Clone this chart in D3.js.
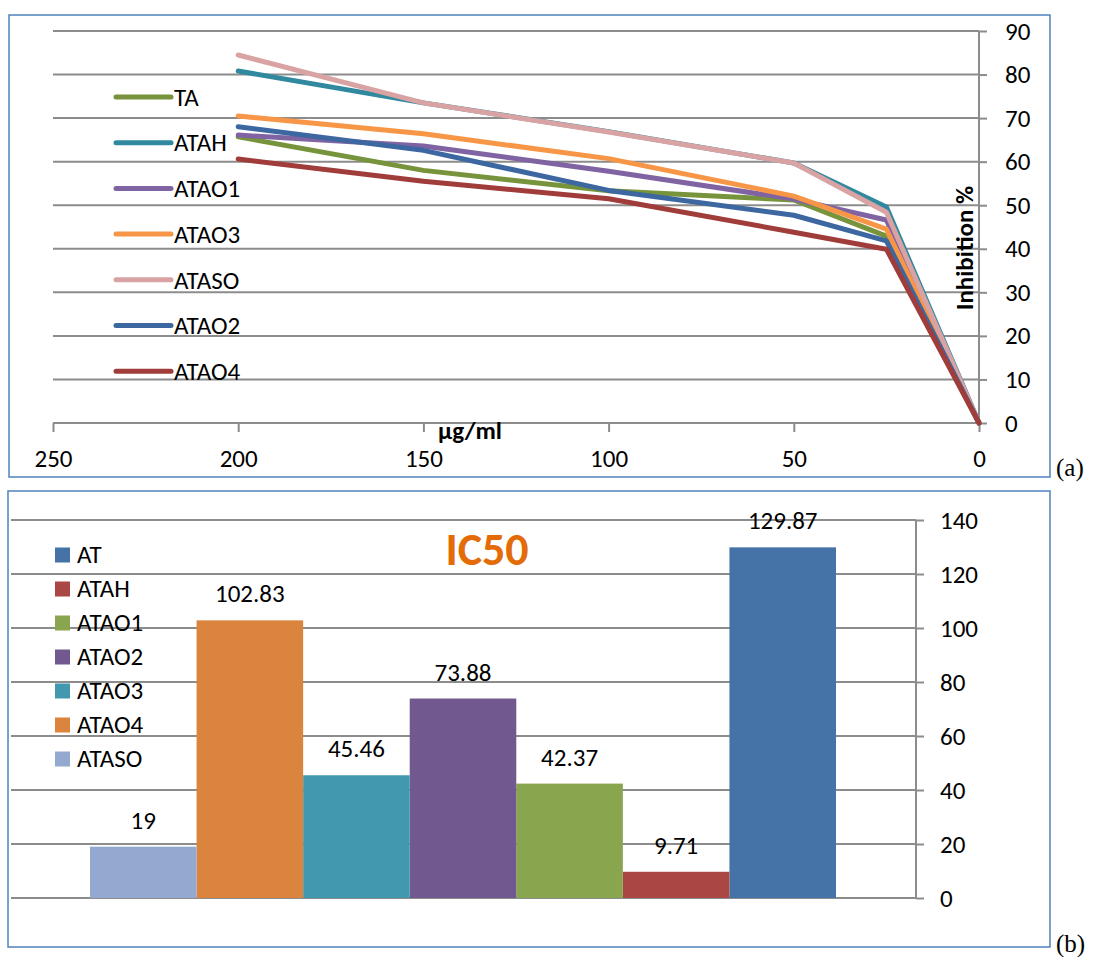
<!DOCTYPE html>
<html><head><meta charset="utf-8">
<script src="https://cdn.jsdelivr.net/npm/d3@7"></script>
<style>body{margin:0;background:#fff}svg{display:block}</style>
</head><body>
<svg id="c" width="1097" height="957"></svg>
<script>
// ---- Data (a) ----
const concentrations = [200, 150, 100, 50, 25, 0];
const lineSeriesNames = ["TA", "ATAH", "ATAO1", "ATAO3", "ATASO", "ATAO2", "ATAO4"];
const TA    = [65.7, 58.0, 53.3, 51.2, 42.9, 0];
const ATAH  = [80.8, 73.5, 66.9, 59.7, 49.6, 0];
const ATAO1 = [66.1, 63.6, 57.8, 51.4, 46.6, 0];
const ATAO3 = [70.5, 66.4, 60.7, 52.1, 44.5, 0];
const ATASO = [84.5, 73.5, 66.8, 59.7, 48.4, 0];
const ATAO2 = [68.0, 62.6, 53.4, 47.7, 41.8, 0];
const ATAO4 = [60.6, 55.5, 51.5, 43.8, 39.9, 0];
const lineValues = [TA, ATAH, ATAO1, ATAO3, ATASO, ATAO2, ATAO4];
const lineColors = ["#77933C", "#31899F", "#7F63A2", "#F79646", "#D9A3A3", "#3C67A0", "#A03C3A"];
const xTicksA = [250, 200, 150, 100, 50, 0];
const yTicksA = [0, 10, 20, 30, 40, 50, 60, 70, 80, 90];

// ---- Data (b) ----
const barNames  = ["AT", "ATAH", "ATAO1", "ATAO2", "ATAO3", "ATAO4", "ATASO"];
const ic50      = [129.87, 9.71, 42.37, 73.88, 45.46, 102.83, 19];
const barLabels = ["129.87", "9.71", "42.37", "73.88", "45.46", "102.83", "19"];
const barColors = ["#4572A7", "#AA4643", "#89A54E", "#71588F", "#4198AF", "#DB843D", "#93A9CF"];
const yTicksB = [0, 20, 40, 60, 80, 100, 120, 140];

const svg = d3.select("#c");
const FONT = "Carlito, Calibri, Lato, 'Open Sans', sans-serif";
const FS = 25;
const grid = "#8c8c8c";

// frames
svg.append("rect").attr("x", 9).attr("y", 15).attr("width", 1041).attr("height", 462)
  .attr("fill", "none").attr("stroke", "#4F81BD").attr("stroke-width", 1.5);
svg.append("rect").attr("x", 8).attr("y", 491).attr("width", 1042).attr("height", 456)
  .attr("fill", "none").attr("stroke", "#4F81BD").attr("stroke-width", 1.5);
svg.append("text").attr("x", 1056).attr("y", 476).text("(a)")
  .attr("font-family", "'Liberation Serif', 'Times New Roman', serif").attr("font-size", 25);
svg.append("text").attr("x", 1056).attr("y", 952).text("(b)")
  .attr("font-family", "'Liberation Serif', 'Times New Roman', serif").attr("font-size", 25);

// ===== Chart (a) =====
const xA = d3.scaleLinear().domain([250, 0]).range([53, 979]);
const yA = d3.scaleLinear().domain([0, 90]).range([423, 31]);
const gA = svg.append("g");

gA.append("g").selectAll("line").data(yTicksA.filter(d => d > 0)).join("line")
  .attr("x1", xA(250)).attr("x2", xA(0)).attr("y1", d => yA(d)).attr("y2", d => yA(d))
  .attr("stroke", grid).attr("stroke-width", 2);

const axRA = gA.append("g").attr("transform", `translate(${xA(0)},0)`)
  .call(d3.axisRight(yA).tickValues(yTicksA).tickSize(8).tickPadding(18));
axRA.select(".domain").attr("stroke", grid).attr("stroke-width", 2).attr("d", `M0,${yA(0)}V${yA(90)}`);
axRA.selectAll(".tick line").attr("stroke", grid).attr("stroke-width", 2);
axRA.selectAll(".tick text").attr("font-family", FONT).attr("font-size", FS).attr("fill", "#000");

const axBA = gA.append("g").attr("transform", `translate(0,${yA(0)})`)
  .call(d3.axisBottom(xA).tickValues(xTicksA).tickSize(9).tickPadding(17));
axBA.select(".domain").attr("stroke", grid).attr("stroke-width", 2).attr("d", `M${xA(250)},0H${xA(0)}`);
axBA.selectAll(".tick line").attr("stroke", grid).attr("stroke-width", 2);
axBA.selectAll(".tick text").attr("font-family", FONT).attr("font-size", FS).attr("fill", "#000");

const line = d3.line().x((d, i) => xA(concentrations[i])).y(d => yA(d));
gA.append("g").selectAll("path").data(lineValues).join("path")
  .attr("d", d => line(d)).attr("fill", "none")
  .attr("stroke", (d, i) => lineColors[i]).attr("stroke-width", 5)
  .attr("stroke-linejoin", "round").attr("stroke-linecap", "round");

// legend (a)
const legA = gA.append("g");
lineSeriesNames.forEach((n, i) => {
  const y = 97 + i * 45.7;
  legA.append("line").attr("x1", 116).attr("x2", 171).attr("y1", y).attr("y2", y)
    .attr("stroke", lineColors[i]).attr("stroke-width", 5).attr("stroke-linecap", "round");
  legA.append("text").attr("x", 174).attr("y", y).attr("dy", "0.35em").text(n)
    .attr("font-family", FONT).attr("font-size", FS);
});

gA.append("text").attr("transform", "translate(964,248) rotate(-90)")
  .attr("text-anchor", "middle").attr("dy", "0.35em").text("Inhibition %")
  .attr("font-family", FONT).attr("font-size", FS).attr("font-weight", "bold");
gA.append("text").attr("x", 470).attr("y", 430).attr("text-anchor", "middle").attr("dy", "0.35em")
  .text("µg/ml").attr("font-family", FONT).attr("font-size", FS).attr("font-weight", "bold");

// ===== Chart (b) =====
const yB = d3.scaleLinear().domain([0, 140]).range([898, 520]);
const order = barNames.slice().reverse();
const xB = d3.scaleBand().domain(order).range([90, 836]).padding(0);
const gB = svg.append("g");

gB.append("g").selectAll("line").data(yTicksB).join("line")
  .attr("x1", 11).attr("x2", 916).attr("y1", d => yB(d)).attr("y2", d => yB(d))
  .attr("stroke", grid).attr("stroke-width", 2);

const axRB = gB.append("g").attr("transform", "translate(916,0)")
  .call(d3.axisRight(yB).tickValues(yTicksB).tickSize(8).tickPadding(16));
axRB.select(".domain").attr("stroke", grid).attr("stroke-width", 2).attr("d", `M0,${yB(0)}V${yB(140)}`);
axRB.selectAll(".tick line").attr("stroke", grid).attr("stroke-width", 2);
axRB.selectAll(".tick text").attr("font-family", FONT).attr("font-size", FS).attr("fill", "#000");

gB.append("g").selectAll("rect").data(barNames).join("rect")
  .attr("x", d => xB(d)).attr("width", xB.bandwidth())
  .attr("y", (d, i) => yB(ic50[i])).attr("height", (d, i) => yB(0) - yB(ic50[i]))
  .attr("fill", (d, i) => barColors[i]);

gB.append("g").selectAll("text").data(barNames).join("text")
  .attr("x", d => xB(d) + xB.bandwidth() / 2).attr("y", (d, i) => yB(ic50[i]) - 18)
  .attr("text-anchor", "middle").text((d, i) => barLabels[i])
  .attr("font-family", FONT).attr("font-size", FS);

gB.append("text").attr("x", 487).attr("y", 565).attr("text-anchor", "middle")
  .text("IC50").attr("font-family", FONT).attr("font-size", 46).attr("font-weight", "bold").attr("fill", "#E36C09");

const legB = gB.append("g");
barNames.forEach((n, i) => {
  const y = 555 + i * 34;
  legB.append("rect").attr("x", 55).attr("y", y - 7.5).attr("width", 15).attr("height", 15).attr("fill", barColors[i]);
  legB.append("text").attr("x", 77).attr("y", y + 8).text(n)
    .attr("font-family", FONT).attr("font-size", FS);
});
</script>
</body></html>
